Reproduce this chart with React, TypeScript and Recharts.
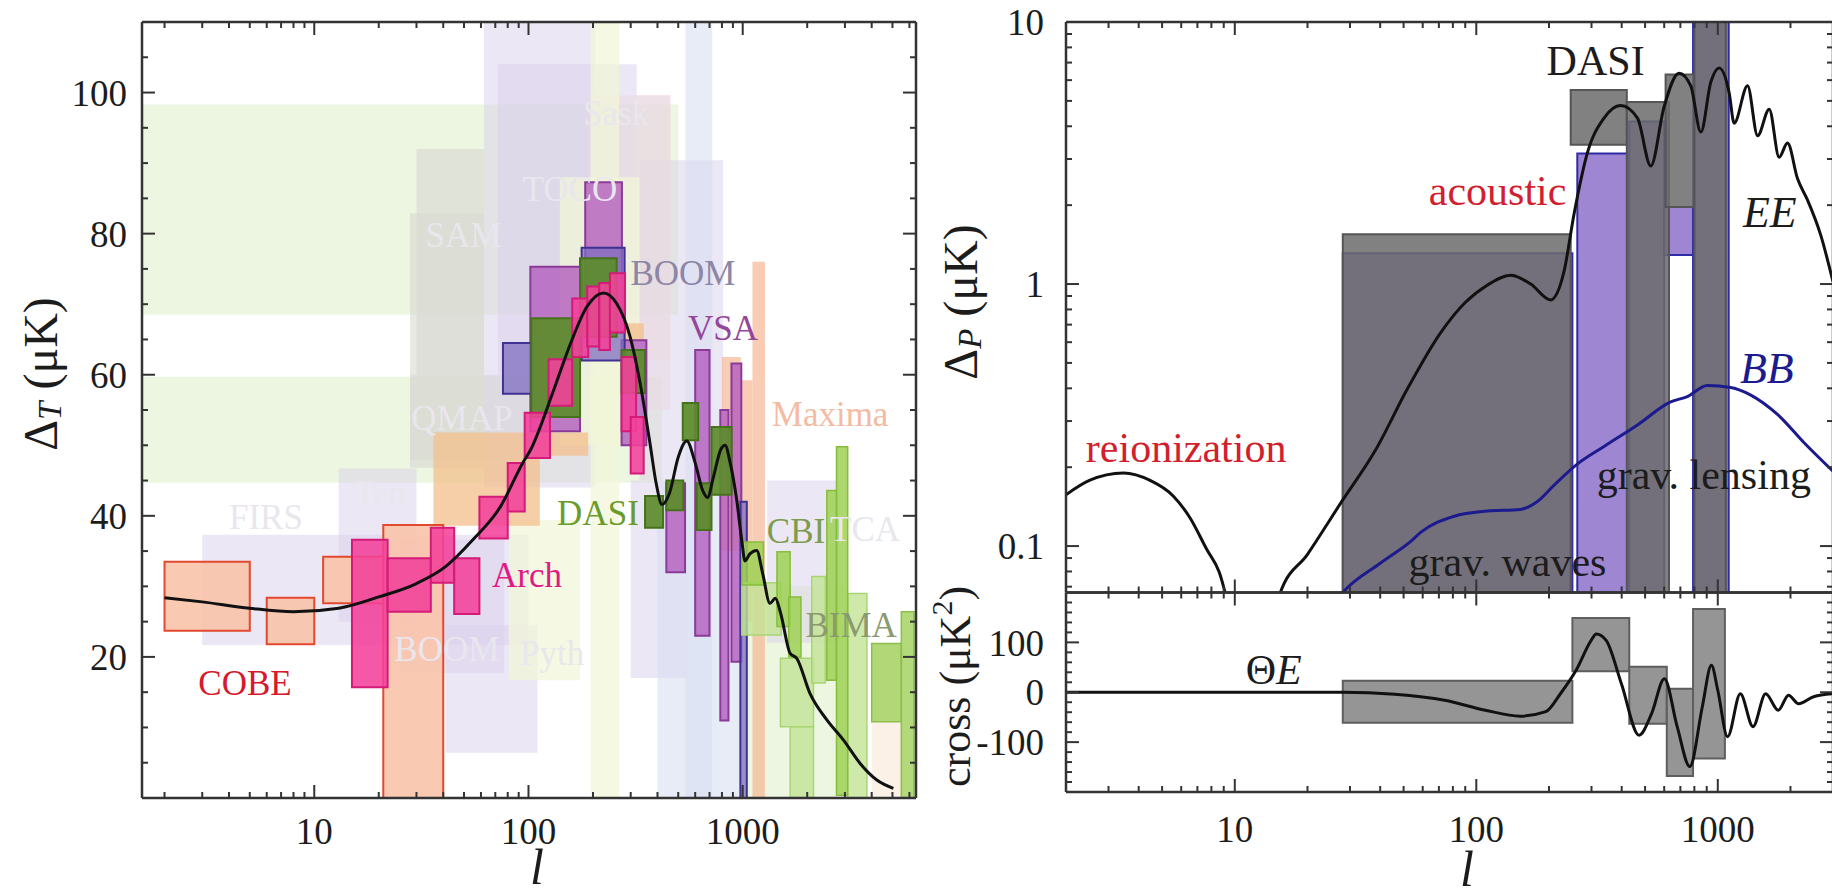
import React from 'react';
import {
  ComposedChart,
  Line,
  XAxis,
  YAxis,
  ReferenceArea,
  ReferenceDot,
} from 'recharts';

type Box = [number, number, number, number];
type Side = 'bottom' | 'top' | 'left' | 'right';

const FONT = "'Liberation Serif', 'DejaVu Serif', 'Times New Roman', serif";
const INK = '#333333';
const TEXT = '#1c1c1c';

// ---------------- left panel: temperature spectrum ----------------
const ttEll = [2, 3, 5, 8, 13, 20, 30, 41, 55, 74, 94, 102, 131, 157, 187, 224, 258, 298, 332, 369, 395, 420, 455, 500, 548, 600, 650, 685, 730, 790, 828, 870, 938, 990, 1025, 1080, 1162, 1240, 1340, 1420, 1500, 1665, 1787, 2062, 2466, 2954, 3532, 4227, 5050];
const ttDelta = [28.4, 27.8, 26.9, 26.4, 26.9, 28.5, 30.4, 32.8, 36.6, 41.3, 47.5, 49.3, 57.8, 64.4, 69.6, 71.6, 70.1, 65.4, 58.8, 50.3, 44.5, 41.6, 43.2, 48.3, 50.6, 47.5, 43.6, 42.6, 45.5, 49.4, 50.0, 47.8, 42.2, 36.5, 33.6, 34.6, 35.1, 31.8, 27.6, 28.3, 26.3, 20.5, 19.8, 14.8, 11.1, 8.2, 4.9, 2.55, 1.37];

const leftMajorL = [10, 100, 1000];
const leftMinorL = [2, 3, 4, 5, 6, 7, 8, 9, 20, 30, 40, 50, 60, 70, 80, 90, 200, 300, 400, 500, 600, 700, 800, 900, 2000, 3000, 4000, 5000, 6000];
const leftMajorT = [20, 40, 60, 80, 100];
const leftMinorT = [5, 10, 15, 25, 30, 35, 45, 50, 55, 65, 70, 75, 85, 90, 95, 105];

// faded (older) measurements, grouped by tint
const fadedGreen: Box[] = [[1.5, 500, 68.5, 98.3], [1.5, 420, 44.7, 59.7], [1000, 3100, 0, 30]];
const fadedGrey: Box[] = [[28, 62, 46.8, 82.9], [30, 62, 60, 92], [28, 100, 48, 60]];
const fadedLav: Box[] = [[62, 205, 44, 115], [72, 320, 60, 104], [330, 810, 45, 90.4], [300, 550, 17, 45], [3, 100, 21.7, 37.3], [13, 30, 25, 46.7], [25, 77, 17.7, 36.6], [41, 110, 6.4, 24.5], [1300, 2800, 22, 45]];
const fadedPink: Box[] = [[190, 460, 62, 99.6], [320, 460, 55, 99.6]];
const fadedBlue: Box[] = [[540, 720, 0, 115], [400, 1000, 0, 45]];
const fadedYellow: Box[] = [[195, 265, 0, 115], [81, 174, 16.7, 39.4], [140, 330, 50, 88]];
const fadedBeige: Box[] = [[4000, 5600, 0, 22]];

// highlighted experiments
const cobeBoxes: Box[] = [[2, 5, 23.7, 33.5], [6, 10, 21.8, 28.4], [11, 21, 27.6, 34.2], [21, 40, 0, 38.7]];
const peachBoxes: Box[] = [[36, 113, 38.6, 51.8], [113, 190, 48.5, 51.8], [272, 345, 64.9, 67.3]];
const maximaBoxes: Box[] = [[800, 980, 35, 62.5], [980, 1110, 25, 59.2], [1110, 1270, 0, 76]];
const vsaBoxes: Box[] = [[102, 174, 52, 75.3], [184, 273, 66, 87.3], [272, 355, 50, 64.9], [440, 538, 32, 44.6], [600, 700, 23, 63.5], [786, 858, 11, 55], [886, 985, 19.3, 61.6]];
const boomBoxes: Box[] = [[76, 103, 57.3, 64.5], [177, 281, 62, 78], [975, 1045, 0, 42]];
const dasiBoxes: Box[] = [[103, 174, 54, 68], [174, 258, 65.4, 76.5], [272, 350, 57.4, 63.5], [350, 425, 38.3, 42.8], [440, 528, 40.8, 45], [525, 620, 50.7, 56], [610, 715, 38, 44.6], [715, 887, 43, 52.6]];
const archBoxes: Box[] = [[15, 22, 15.7, 36.6], [22, 35, 26.4, 34], [35, 45, 30.5, 38.3], [45, 59, 26.1, 34], [59, 80, 36.8, 42.7], [80, 96, 40.6, 47.5], [96, 126, 48.2, 54.6], [124, 160, 55.6, 62.2], [160, 190, 62.5, 70.8], [188, 214, 64, 72.5], [214, 240, 63.5, 73], [240, 282, 66, 74.4], [272, 318, 52, 62.5], [300, 345, 46, 54]];
const cbiLight: Box[] = [[990, 1510, 23.1, 30.5], [1500, 2140, 10.1, 19.8], [1665, 2140, 0, 10.1], [2100, 2430, 16.3, 31.4], [3090, 3800, 0, 29]];
const cbiDark: Box[] = [[990, 1250, 30.2, 36.3], [1445, 1665, 24.3, 34.9], [1640, 1870, 20, 28.5], [2470, 2740, 16.7, 43.6], [2740, 3090, 0.4, 49.8]];
const bimaBoxes: Box[] = [[4000, 5500, 10.8, 21.9], [5500, 6300, 0, 26.4]];

const leftNotes: [string, number, number][] = [
  ['COBE', 4.75, 16.3], ['Arch', 98.4, 31.5], ['DASI', 211, 40.3], ['BOOM', 526, 74.4],
  ['VSA', 809, 66.6], ['Maxima', 2558, 54.4], ['CBI', 1774, 37.8], ['BIMA', 3206, 24.4],
];
const leftNoteColors = ['#d7192b', '#df1a82', '#6a9b2c', '#8d86a6', '#94469a', '#f3bba3', '#7d9c50', '#8b9a70'];
const leftFadedNotes: [string, number, number][] = [
  ['FIRS', 5.95, 39.8], ['Ten', 20.3, 43.2], ['BOOM', 41.6, 21], ['Pyth', 129, 20.5],
  ['QMAP', 48.9, 53.8], ['SAM', 49.7, 79.8], ['TOCO', 156, 86.2], ['Sask', 256, 97.1], ['TCA', 3724, 38],
];

// ---------------- right panel: polarization ----------------
const eeEll = [2, 2.5, 3.46, 4.46, 5.57, 6.53, 7.66, 8.6, 10, 12, 14, 15.4, 20, 28, 38, 52, 71, 90, 111, 139, 168, 203, 231, 254, 288, 338, 396, 465, 528, 599, 691, 773, 851, 936, 1013, 1115, 1169, 1328, 1462, 1633, 1795, 1944, 2140, 2354, 2673, 3000];
const eeDelta = [0.157, 0.178, 0.19, 0.178, 0.155, 0.128, 0.097, 0.08, 0.048, 0.032, 0.045, 0.066, 0.093, 0.15, 0.23, 0.4, 0.65, 0.85, 0.99, 1.08, 1.0, 0.87, 1.12, 1.85, 3.15, 4.3, 4.8, 4.3, 2.82, 4.74, 6.38, 5.71, 3.8, 5.9, 6.68, 5.36, 4.11, 5.71, 3.68, 4.65, 3.05, 3.45, 2.52, 2.09, 1.53, 1.02];
const bbEll = [24, 28, 40, 54, 59, 81, 111, 152, 179, 209, 261, 338, 465, 638, 748, 905, 1132, 1370, 1767, 2277, 3000];
const bbDelta = [0.055, 0.0665, 0.086, 0.105, 0.113, 0.13, 0.136, 0.138, 0.148, 0.17, 0.205, 0.24, 0.29, 0.355, 0.372, 0.41, 0.403, 0.377, 0.318, 0.248, 0.193];
const teEll = [2, 10, 28, 46, 74, 109, 152, 194, 223, 259, 299, 314, 345, 399, 472, 532, 601, 679, 766, 863, 941, 1000, 1098, 1240, 1399, 1578, 1781, 1963, 2160, 2493, 3000];
const teCross = [0, 0, 0, -4, -16, -36, -48, -39, -3, 44, 104, 117, 104, 17, -86, -43, 27, -69, -149, -29, 54, 4, -89, -3, -69, -3, -36, -6, -23, -9, -3];

const rightMajorL = [10, 100, 1000];
const rightMinorL = [3, 4, 5, 6, 7, 8, 9, 20, 30, 40, 50, 60, 70, 80, 90, 200, 300, 400, 500, 600, 700, 800, 900, 2000];
const pMajor = [0.1, 1, 10];
const pMinor = [0.07, 0.08, 0.09, 0.2, 0.3, 0.4, 0.5, 0.6, 0.7, 0.8, 0.9, 2, 3, 4, 5, 6, 7, 8, 9];
const crossMajor = [-100, 0, 100];
const crossMinor = [-180, -160, -140, -120, -80, -60, -40, -20, 20, 40, 60, 80, 120, 140, 160, 180];

const eeGrey: Box[] = [[28, 246, 0.01, 1.55], [246, 420, 3.4, 5.5], [420, 628, 0.01, 4.95], [608, 800, 1.97, 6.3], [800, 1080, 0.01, 20]];
const bbPurple: Box[] = [[28, 250, 0.01, 1.31], [262, 430, 0.01, 3.15], [430, 600, 0.01, 4.17], [600, 800, 1.29, 1.97], [790, 1110, 0.01, 20]];
const teGrey: Box[] = [[28, 250, -61, 23], [250, 430, 42, 149], [430, 615, -63, 51], [615, 790, -168, 7], [790, 1070, -133, 167]];

const rightNotes: [string, number, number][] = [
  ['reionization', 6.29, 0.237], ['acoustic', 122.5, 2.26], ['DASI', 312, 7.1],
  ['grav. lensing', 875, 0.187], ['grav. waves', 134.6, 0.0869],
];
const rightNoteColors = ['#d11f2f', '#d11f2f', TEXT, TEXT, TEXT];

// ---------------- helpers ----------------
const ttCurve = ttEll.map((l, i) => ({ l, t: ttDelta[i] }));
const polRows = [
  ...eeEll.map((l, i) => ({ l, ee: eeDelta[i] })),
  ...bbEll.map((l, i) => ({ l, bb: bbDelta[i] })),
].sort((a, b) => a.l - b.l);
const teCurve = teEll.map((l, i) => ({ l, c: teCross[i] }));

const AXIS_LINE = { stroke: INK, strokeWidth: 2.5 };
const LABEL_SIZE = 37;

// ticks point into the frame; labels (if any) sit outside it
function makeTick(side: Side, len: number, gap: number, label: boolean) {
  return (p: any) => {
    const x = Number(p.x);
    const y = Number(p.y);
    const v = p.payload ? p.payload.value : '';
    let seg;
    if (side === 'bottom') seg = { x1: x, x2: x, y1: y - gap, y2: y - gap - len };
    else if (side === 'top') seg = { x1: x, x2: x, y1: y + gap, y2: y + gap + len };
    else if (side === 'left') seg = { x1: x + gap, x2: x + gap + len, y1: y, y2: y };
    else seg = { x1: x - gap, x2: x - gap - len, y1: y, y2: y };
    return (
      <g>
        <line {...seg} stroke={INK} strokeWidth={2} />
        {label && (
          <text x={x} y={y} dy={side === 'bottom' ? '0.71em' : '0.355em'} textAnchor={side === 'bottom' ? 'middle' : 'end'}
            fontFamily={FONT} fontSize={LABEL_SIZE} fill={TEXT}>{String(v)}</text>
        )}
      </g>
    );
  };
}

type AxisCfg = {
  xDomain: number[];
  yDomain: number[];
  yScale: 'log' | 'linear';
  xMajor: number[];
  xMinor: number[];
  yMajor: number[];
  yMinor: number[];
  xLabels: boolean;
  xGap: number;
  yGap: number;
  xTitle?: any;
  yTitle?: any;
};

function frameAxes(c: AxisCfg) {
  const xs = { type: 'number' as const, scale: 'log' as const, domain: c.xDomain, allowDataOverflow: true, interval: 0 as const, dataKey: 'l', tickSize: 0, tickLine: false, height: 1 };
  const ys = { type: 'number' as const, scale: c.yScale, domain: c.yDomain, allowDataOverflow: true, interval: 0 as const, tickSize: 0, tickLine: false, width: 1 };
  const xg = c.xLabels ? c.xGap : 0;
  return [
    <XAxis key="x" xAxisId="x" orientation="bottom" {...xs} ticks={c.xMajor} tickMargin={xg}
      tick={makeTick('bottom', 13, xg, c.xLabels)} axisLine={AXIS_LINE} label={c.xTitle} />,
    <XAxis key="xm" xAxisId="xm" orientation="bottom" {...xs} ticks={c.xMinor} tickMargin={0} tick={makeTick('bottom', 7, 0, false)} axisLine={false} />,
    <XAxis key="xt" xAxisId="xt" orientation="top" {...xs} ticks={c.xMajor} tickMargin={0} tick={makeTick('top', 13, 0, false)} axisLine={AXIS_LINE} />,
    <XAxis key="xtm" xAxisId="xtm" orientation="top" {...xs} ticks={c.xMinor} tickMargin={0} tick={makeTick('top', 7, 0, false)} axisLine={false} />,
    <YAxis key="y" yAxisId="y" orientation="left" {...ys} ticks={c.yMajor} tickMargin={c.yGap}
      tick={makeTick('left', 13, c.yGap, true)} axisLine={AXIS_LINE} label={c.yTitle} />,
    <YAxis key="ym" yAxisId="ym" orientation="left" {...ys} ticks={c.yMinor} tickMargin={0} tick={makeTick('left', 7, 0, false)} axisLine={false} />,
    <YAxis key="yr" yAxisId="yr" orientation="right" {...ys} ticks={c.yMajor} tickMargin={0} tick={makeTick('right', 13, 0, false)} axisLine={AXIS_LINE} />,
    <YAxis key="yrm" yAxisId="yrm" orientation="right" {...ys} ticks={c.yMinor} tickMargin={0} tick={makeTick('right', 7, 0, false)} axisLine={false} />,
  ];
}

function boxes(list: Box[], tag: string, style: any) {
  return list.map((b, i) => (
    <ReferenceArea key={tag + i} xAxisId="x" yAxisId="y" x1={b[0]} x2={b[1]} y1={b[2]} y2={b[3]} ifOverflow="hidden" {...style} />
  ));
}

function note(key: string, x: number, y: number, body: React.ReactNode, color: string, size: number) {
  return (
    <ReferenceDot key={key} xAxisId="x" yAxisId="y" x={x} y={y} r={1} fill="none" stroke="none" ifOverflow="visible"
      label={(p: any) => {
        const vb = p.viewBox || { x: 0, y: 0, width: 0, height: 0 };
        return (
          <text x={vb.x + vb.width / 2} y={vb.y + vb.height / 2} textAnchor="middle" dominantBaseline="central"
            fontFamily={FONT} fontSize={size} fill={color}>{body}</text>
        );
      }} />
  );
}

const vbOf = (p: any) => p.viewBox || { x: 0, y: 0, width: 0, height: 0 };

const leftYTitle = (p: any) => {
  const vb = vbOf(p);
  return (
    <text transform={`translate(${vb.x - 101},${vb.y + 352}) rotate(-90)`} textAnchor="middle" dominantBaseline="central"
      fontFamily={FONT} fontSize={48} fill={TEXT}>
      Δ<tspan fontStyle="italic" fontSize={33} dy={10}>T</tspan><tspan dy={-10}> (μK)</tspan>
    </text>
  );
};
const leftXTitle = (p: any) => {
  const vb = vbOf(p);
  return <text x={vb.x + 395} y={vb.y + 86} textAnchor="middle" fontFamily={FONT} fontStyle="italic" fontSize={50} fill={TEXT}>l</text>;
};
const pYTitle = (p: any) => {
  const vb = vbOf(p);
  return (
    <text transform={`translate(${vb.x - 105},${vb.y + 280}) rotate(-90)`} textAnchor="middle" dominantBaseline="central"
      fontFamily={FONT} fontSize={48} fill={TEXT}>
      Δ<tspan fontStyle="italic" fontSize={33} dy={10}>P</tspan><tspan dy={-10}> (μK)</tspan>
    </text>
  );
};
const crossYTitle = (p: any) => {
  const vb = vbOf(p);
  return (
    <text transform={`translate(${vb.x - 110},${vb.y + 94}) rotate(-90)`} textAnchor="middle" dominantBaseline="central"
      fontFamily={FONT} fontSize={44} fill={TEXT}>
      cross (μK<tspan fontSize={30} dy={-14}>2</tspan><tspan dy={14}>)</tspan>
    </text>
  );
};
const rightXTitle = (p: any) => {
  const vb = vbOf(p);
  return <text x={vb.x + 401} y={vb.y + 94} textAnchor="middle" fontFamily={FONT} fontStyle="italic" fontSize={50} fill={TEXT}>l</text>;
};

const L_DOMAIN = [1.57, 6440];
const R_DOMAIN = [2, 3000];

function TemperaturePanel() {
  return (
    <ComposedChart width={930} height={889} data={ttCurve} margin={{ top: 20, right: 12, bottom: 89, left: 140 }}>
      {frameAxes({
        xDomain: L_DOMAIN, yDomain: [0, 110], yScale: 'linear', xMajor: leftMajorL, xMinor: leftMinorL,
        yMajor: leftMajorT, yMinor: leftMinorT, xLabels: true, xGap: 20, yGap: 15, xTitle: leftXTitle, yTitle: leftYTitle,
      })}
      {boxes(fadedGreen, 'fg', { fill: '#e9f4dc', fillOpacity: 0.85 })}
      {boxes(fadedGrey, 'fgr', { fill: '#d9d9d2', fillOpacity: 0.6 })}
      {boxes(fadedLav, 'fl', { fill: '#d9d0ec', fillOpacity: 0.5 })}
      {boxes(fadedPink, 'fp', { fill: '#eadbe2', fillOpacity: 0.55 })}
      {boxes(fadedBlue, 'fb', { fill: '#d8e0f2', fillOpacity: 0.6 })}
      {boxes(fadedYellow, 'fy', { fill: '#f1f5d8', fillOpacity: 0.75 })}
      {boxes(fadedBeige, 'fbe', { fill: '#fbf0e4', fillOpacity: 0.9 })}
      {leftFadedNotes.map((n, i) => note('fn' + i, n[1], n[2], n[0], '#e9e6ee', 35))}
      {boxes(maximaBoxes, 'mx', { fill: '#f7b696', fillOpacity: 0.7 })}
      {boxes(peachBoxes, 'pe', { fill: '#f3bf8c', fillOpacity: 0.75 })}
      {boxes(cobeBoxes, 'co', { fill: '#f9c3aa', fillOpacity: 0.9, stroke: '#e2492f', strokeWidth: 2 })}
      {boxes(vsaBoxes, 'vs', { fill: '#b35dbe', fillOpacity: 0.8, stroke: '#8a3a98', strokeWidth: 2 })}
      {boxes(boomBoxes, 'bo', { fill: '#7f6cc0', fillOpacity: 0.75, stroke: '#3f3293', strokeWidth: 2 })}
      {boxes(dasiBoxes, 'da', { fill: '#5c8c2b', fillOpacity: 0.92, stroke: '#46721c', strokeWidth: 2 })}
      {boxes(archBoxes, 'ar', { fill: '#f2419a', fillOpacity: 0.88, stroke: '#d41b78', strokeWidth: 2 })}
      {boxes(cbiLight, 'cl', { fill: '#c3e496', fillOpacity: 0.8, stroke: '#a9d673', strokeWidth: 1.5 })}
      {boxes(cbiDark, 'cd', { fill: '#9ed153', fillOpacity: 0.85, stroke: '#86bd3c', strokeWidth: 1.5 })}
      {boxes(bimaBoxes, 'bi', { fill: '#a5d263', fillOpacity: 0.85, stroke: '#8dbf4c', strokeWidth: 1.5 })}
      <Line xAxisId="x" yAxisId="y" type="monotone" dataKey="t" stroke="#111" strokeWidth={3} dot={false} isAnimationActive={false} />
      {leftNotes.map((n, i) => note('ln' + i, n[1], n[2], n[0], leftNoteColors[i], 35))}
    </ComposedChart>
  );
}

function PolarizationPanel() {
  return (
    <ComposedChart width={970} height={600} data={polRows} margin={{ top: 20, right: 35, bottom: 5.5, left: 164 }}>
      {frameAxes({
        xDomain: R_DOMAIN, yDomain: [0.0665, 10], yScale: 'log', xMajor: rightMajorL, xMinor: rightMinorL,
        yMajor: pMajor, yMinor: pMinor, xLabels: false, xGap: 0, yGap: 22, yTitle: pYTitle,
      })}
      {boxes(bbPurple, 'pp', { fill: '#9a80d0', fillOpacity: 0.95, stroke: '#2f2aa8', strokeWidth: 2 })}
      {boxes(eeGrey, 'pg', { fill: '#6c6c6c', fillOpacity: 0.86, stroke: '#555', strokeWidth: 2 })}
      <Line xAxisId="x" yAxisId="y" type="monotone" dataKey="ee" connectNulls stroke="#111" strokeWidth={3} dot={false} isAnimationActive={false} />
      <Line xAxisId="x" yAxisId="y" type="monotone" dataKey="bb" connectNulls stroke="#1c1a8f" strokeWidth={3} dot={false} isAnimationActive={false} />
      {rightNotes.map((n, i) => note('rn' + i, n[1], n[2], n[0], rightNoteColors[i], 42))}
      {note('ee', 1643, 1.88, <tspan fontStyle="italic">EE</tspan>, TEXT, 44)}
      {note('bb', 1597, 0.477, <tspan fontStyle="italic">BB</tspan>, '#1c1a8f', 44)}
    </ComposedChart>
  );
}

function CrossPanel() {
  return (
    <ComposedChart width={970} height={349} data={teCurve} margin={{ top: 50.5, right: 35, bottom: 95, left: 164 }}>
      {frameAxes({
        xDomain: R_DOMAIN, yDomain: [-200, 200], yScale: 'linear', xMajor: rightMajorL, xMinor: rightMinorL,
        yMajor: crossMajor, yMinor: crossMinor, xLabels: true, xGap: 24, yGap: 22, xTitle: rightXTitle, yTitle: crossYTitle,
      })}
      {boxes(teGrey, 'tg', { fill: '#8a8a8a', fillOpacity: 0.9, stroke: '#5e5e5e', strokeWidth: 2 })}
      <Line xAxisId="x" yAxisId="y" type="monotone" dataKey="c" stroke="#111" strokeWidth={3} dot={false} isAnimationActive={false} />
      {note('te', 14.5, 44, <>Θ<tspan fontStyle="italic">E</tspan></>, TEXT, 42)}
    </ComposedChart>
  );
}

export default function App() {
  return (
    <div style={{ position: 'absolute', left: 0, top: 0, width: 1832, height: 889, overflow: 'hidden', background: '#fff' }}>
      <div style={{ position: 'absolute', left: 0, top: 0 }}>
        <TemperaturePanel />
      </div>
      <div style={{ position: 'absolute', left: 900, top: 0 }}>
        <PolarizationPanel />
      </div>
      <div style={{ position: 'absolute', left: 900, top: 540 }}>
        <CrossPanel />
      </div>
    </div>
  );
}
